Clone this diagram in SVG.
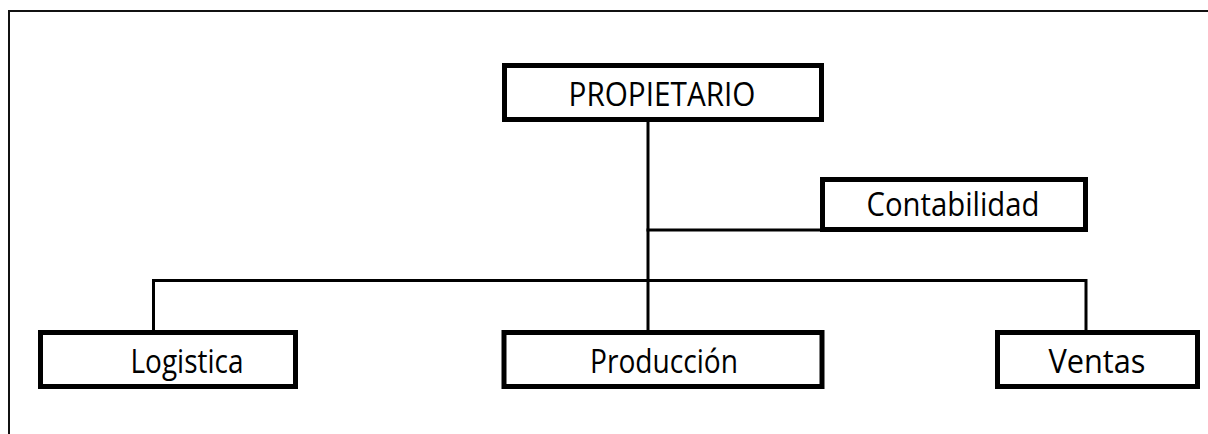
<svg xmlns="http://www.w3.org/2000/svg" width="1208" height="434" viewBox="0 0 1208 434">
<style>
.box{fill:#fff;stroke:#000;stroke-width:5}
.lbl{font-family:"Open Sans","Noto Sans","Liberation Sans",sans-serif;font-size:33px;fill:#000;text-anchor:middle}
.con{fill:none;stroke:#000;stroke-width:3}
</style>
<rect width="1208" height="434" fill="#fff"/>
<path d="M9 434 V11 H1208" fill="none" stroke="#111" stroke-width="2"/>
<g id="connectors">
<path class="con" d="M648 122 V331"/>
<path class="con" d="M646.5 230 H822"/>
<path class="con" d="M153.5 331 V280.5 H1086 V331"/>
</g>
<g id="propietario">
<rect class="box" x="504.5" y="65.5" width="317" height="54"/>
<text class="lbl" x="662" y="106" textLength="187" lengthAdjust="spacingAndGlyphs">PROPIETARIO</text>
</g>
<g id="contabilidad">
<rect class="box" x="822.5" y="179.5" width="263" height="50"/>
<text class="lbl" x="953" y="216" textLength="173" lengthAdjust="spacingAndGlyphs">Contabilidad</text>
</g>
<g id="logistica">
<rect class="box" x="40.5" y="332.5" width="255" height="54"/>
<text class="lbl" x="187" y="373" textLength="113" lengthAdjust="spacingAndGlyphs">Logistica</text>
</g>
<g id="produccion">
<rect class="box" x="504" y="332.5" width="318" height="54"/>
<text class="lbl" x="664" y="373" textLength="148" lengthAdjust="spacingAndGlyphs">Producción</text>
</g>
<g id="ventas">
<rect class="box" x="997.5" y="332.5" width="200" height="54"/>
<text class="lbl" x="1097" y="373" textLength="97" lengthAdjust="spacingAndGlyphs">Ventas</text>
</g>
</svg>
